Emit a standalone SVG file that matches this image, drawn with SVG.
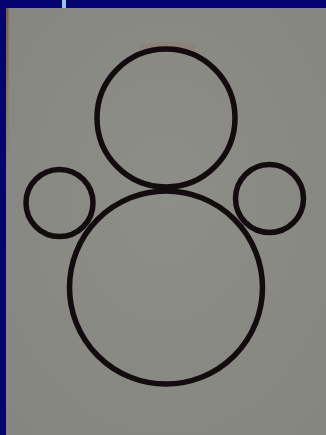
<svg xmlns="http://www.w3.org/2000/svg" width="326" height="435" viewBox="0 0 326 435">
  <style>
    .c { fill: none; stroke: #120c0e; stroke-width: 5.5; }
  </style>
  <defs>
    <linearGradient id="edge" x1="0" y1="0" x2="0" y2="1">
      <stop offset="0" stop-color="#7a6236"/>
      <stop offset="0.25" stop-color="#8a7c5a"/>
      <stop offset="0.5" stop-color="#8a8a80" stop-opacity="0"/>
    </linearGradient>
    <radialGradient id="paper" cx="0.5" cy="0.45" r="0.7">
      <stop offset="0" stop-color="#8d8e87"/>
      <stop offset="1" stop-color="#85867f"/>
    </radialGradient>
  </defs>
  <rect x="0" y="0" width="326" height="435" fill="#05046e"/>
  <rect x="6" y="8" width="320" height="427" fill="url(#paper)"/>
  <rect x="6" y="8" width="2.5" height="427" fill="url(#edge)"/>
  <rect x="62" y="0" width="4" height="8" fill="#9cc3de"/>
  <path d="M140 49 Q166 41 195 48" fill="none" stroke="#a0604a" stroke-width="6" stroke-opacity="0.15"/>
  <g id="head"><circle class="c" cx="166" cy="118" r="69"/></g>
  <g id="left-ear"><circle class="c" cx="59.5" cy="203" r="33.5"/></g>
  <g id="right-ear"><circle class="c" cx="269.5" cy="198.5" r="34"/></g>
  <g id="body"><circle class="c" cx="166" cy="287.5" r="96.5"/></g>
  <g id="connectors"></g>
</svg>
